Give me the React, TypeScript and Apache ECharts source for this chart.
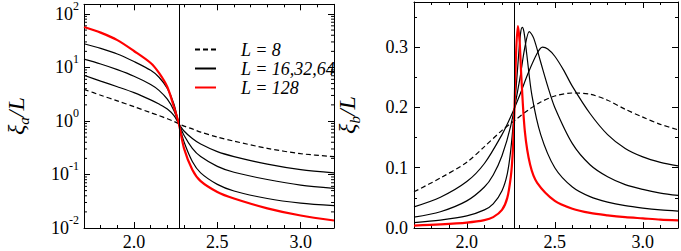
import React, { useEffect, useRef } from 'react';
import * as echarts from 'echarts';

const FONT = 'Liberation Serif, serif';
const TC = 2.269;
const X_MIN = 1.7;
const X_MAX = 3.2;

const LEGEND_NAMES = ['L = 8', 'L = 16,32,64', 'L = 128'];

// Left panel: xi_a / L (log scale)
const tA = [1.7, 1.8, 1.9, 2.0, 2.1, 2.15, 2.2, 2.24, 2.269, 2.3, 2.35, 2.4, 2.5, 2.6, 2.8, 3.0, 3.2];
const xiA_L8 = [3.9, 3.03, 2.38, 1.85, 1.43, 1.26, 1.1, 0.98, 0.887, 0.8, 0.71, 0.62, 0.5, 0.42, 0.308, 0.245, 0.216];
const xiA_L16 = [7.16, 5.55, 4.37, 3.39, 2.48, 2.07, 1.67, 1.26, 0.887, 0.65, 0.47, 0.37, 0.267, 0.216, 0.156, 0.123, 0.107];
const xiA_L32 = [14.3, 11.6, 9.1, 6.86, 4.82, 3.74, 2.55, 1.56, 0.887, 0.54, 0.308, 0.216, 0.142, 0.11, 0.0807, 0.0634, 0.0551];
const xiA_L64 = [27.7, 22.7, 17.9, 12.9, 8.84, 6.57, 4.07, 2.07, 0.887, 0.408, 0.175, 0.107, 0.0653, 0.0492, 0.0356, 0.0292, 0.0261];
const xiA_L128 = [56.9, 44.8, 32.4, 20.3, 12.1, 7.89, 4.31, 1.8, 0.887, 0.308, 0.123, 0.0752, 0.0472, 0.0356, 0.0233, 0.0171, 0.0138];

// Right panel: xi_b / L (linear scale)
const tB8 = [1.7, 1.85, 2.0, 2.1, 2.2, 2.27, 2.35, 2.42, 2.5, 2.6, 2.7, 2.8, 2.9, 3.0, 3.1, 3.2];
const xiB_L8 = [0.06, 0.083, 0.109, 0.135, 0.162, 0.178, 0.196, 0.209, 0.219, 0.224, 0.222, 0.212, 0.197, 0.184, 0.172, 0.163];
const tB16 = [1.7, 1.85, 2.0, 2.1, 2.2, 2.25, 2.3, 2.35, 2.4, 2.43, 2.46, 2.5, 2.55, 2.6, 2.7, 2.8, 2.9, 3.0, 3.1, 3.2];
const xiB_L16 = [0.035, 0.051, 0.077, 0.107, 0.155, 0.185, 0.22, 0.258, 0.29, 0.3, 0.297, 0.285, 0.262, 0.235, 0.19, 0.155, 0.132, 0.118, 0.109, 0.103];
const tB32 = [1.7, 1.85, 2.0, 2.1, 2.15, 2.2, 2.25, 2.3, 2.33, 2.355, 2.38, 2.42, 2.46, 2.5, 2.6, 2.7, 2.8, 2.9, 3.0, 3.1, 3.2];
const xiB_L32 = [0.018, 0.027, 0.045, 0.068, 0.088, 0.12, 0.17, 0.245, 0.3, 0.326, 0.315, 0.275, 0.235, 0.2, 0.14, 0.105, 0.085, 0.072, 0.064, 0.058, 0.054];
const tB64 = [1.7, 1.85, 2.0, 2.1, 2.15, 2.2, 2.23, 2.25, 2.27, 2.29, 2.305, 2.315, 2.325, 2.34, 2.37, 2.42, 2.5, 2.6, 2.7, 2.8, 2.9, 3.0, 3.1, 3.2];
const xiB_L64 = [0.009, 0.013, 0.02, 0.03, 0.04, 0.062, 0.09, 0.13, 0.195, 0.27, 0.322, 0.333, 0.325, 0.29, 0.22, 0.155, 0.1, 0.068, 0.052, 0.043, 0.037, 0.033, 0.03, 0.028];
const tB128 = [1.7, 1.85, 2.0, 2.1, 2.15, 2.2, 2.23, 2.25, 2.26, 2.27, 2.28, 2.29, 2.3, 2.31, 2.33, 2.36, 2.4, 2.5, 2.6, 2.7, 2.8, 2.9, 3.0, 3.1, 3.2];
const xiB_L128 = [0.004, 0.006, 0.009, 0.013, 0.018, 0.03, 0.05, 0.085, 0.12, 0.19, 0.29, 0.335, 0.31, 0.25, 0.16, 0.105, 0.075, 0.045, 0.032, 0.025, 0.021, 0.018, 0.016, 0.014, 0.0127];

const LOG_MIN = -2;
const LOG_MAX = 2.18;
const B_MAX = 0.375;

const pairs = (xs: number[], ys: number[], f: (v: number) => number = (v) => v) =>
  xs.map((x, i) => [x, f(ys[i])]);

const minorLog: number[] = [];
for (let n = -2; n <= 2; n++) {
  for (let k = 2; k <= 9; k++) {
    const v = Math.log10(k * Math.pow(10, n));
    if (v < LOG_MAX) minorLog.push(v);
  }
}

function buildOption() {
  const axisLine = { show: true, onZero: false, lineStyle: { color: '#000', width: 1 } };
  const axisTick = { show: true, inside: true, length: 6, lineStyle: { color: '#000', width: 1 } };
  const labelBase = { fontFamily: FONT, fontSize: 18, fontWeight: 'normal', color: '#000' };

  const xAxisFor = (gridIndex: number, position: 'bottom' | 'top') => ({
    type: 'value',
    gridIndex,
    position,
    min: X_MIN,
    max: X_MAX,
    splitNumber: 3,
    axisLine,
    axisTick,
    minorTick: { show: true, splitNumber: 5, length: 3, lineStyle: { color: '#000', width: 1 } },
    splitLine: { show: false },
    axisLabel: {
      show: position === 'bottom',
      ...labelBase,
      margin: 5,
      showMinLabel: false,
      showMaxLabel: false,
      formatter: (v: number) => (Math.abs(v * 2 - Math.round(v * 2)) < 1e-6 ? v.toFixed(1) : ''),
    },
  });

  const nameStyle = (sub: string) => ({
    name: '{t|ξ}{s|' + sub + '}{t|/L}',
    nameLocation: 'middle',
    nameTextStyle: {
      fontFamily: FONT,
      fontSize: 24,
      fontStyle: 'italic',
      color: '#000',
      lineHeight: 30,
      rich: {
        t: { fontFamily: FONT, fontSize: 24, fontStyle: 'italic', color: '#000', lineHeight: 30 },
        s: { fontFamily: FONT, fontSize: 15, fontStyle: 'italic', color: '#000', lineHeight: 15, verticalAlign: 'bottom' },
      },
    },
  });

  const yLogFor = (position: 'left' | 'right') => ({
    type: 'value',
    gridIndex: 0,
    position,
    min: LOG_MIN,
    max: LOG_MAX,
    interval: 1,
    axisLine,
    axisTick,
    splitLine: { show: false },
    ...(position === 'left' ? { ...nameStyle('a'), nameGap: 53 } : {}),
    axisLabel: {
      show: position === 'left',
      ...labelBase,
      margin: 5,
      lineHeight: 28,
      formatter: (v: number) => {
        const r = Math.round(v);
        if (Math.abs(v - r) > 1e-6) return '';
        return '{b|10}{s|' + r + '}';
      },
      rich: {
        b: { fontFamily: FONT, fontSize: 18, color: '#000', lineHeight: 28 },
        s: { fontFamily: FONT, fontSize: 12, color: '#000', lineHeight: 12, verticalAlign: 'top' },
      },
    },
  });

  const yLinFor = (position: 'left' | 'right') => ({
    type: 'value',
    gridIndex: 1,
    position,
    min: 0,
    max: B_MAX,
    interval: 0.1,
    axisLine,
    axisTick,
    minorTick: { show: true, splitNumber: 2, length: 3, lineStyle: { color: '#000', width: 1 } },
    splitLine: { show: false },
    ...(position === 'left' ? { ...nameStyle('b'), nameGap: 52 } : {}),
    axisLabel: {
      show: position === 'left',
      ...labelBase,
      margin: 6,
      formatter: (v: number) => (Math.abs(v * 10 - Math.round(v * 10)) < 1e-6 ? v.toFixed(1) : ''),
    },
  });

  const line = (
    name: string,
    data: number[][],
    xi: number,
    yi: number,
    color: string,
    width: number,
    dashed: boolean,
    withMark: boolean,
  ) => ({
    type: 'line',
    name,
    data,
    xAxisIndex: xi,
    yAxisIndex: yi,
    symbol: 'none',
    showSymbol: false,
    smooth: 0.3,
    silent: true,
    itemStyle: { color },
    lineStyle: { color, width, type: dashed ? [5, 3] : 'solid' },
    ...(withMark
      ? {
          markLine: {
            silent: true,
            symbol: ['none', 'none'],
            label: { show: false },
            lineStyle: { color: '#000', width: 1, type: 'solid' },
            data: [{ xAxis: TC }],
          },
        }
      : {}),
  });

  const lg = Math.log10;

  return {
    animation: false,
    backgroundColor: '#fff',
    grid: [
      { left: 70, top: 2, width: 264, height: 227 },
      { left: 414, top: 2, width: 264, height: 227 },
    ],
    legend: {
      data: LEGEND_NAMES,
      orient: 'vertical',
      left: 189,
      top: 35,
      itemWidth: 21,
      itemHeight: 10,
      itemGap: 0,
      selectedMode: false,
      itemStyle: { color: 'rgba(0,0,0,0)', borderColor: 'rgba(0,0,0,0)', borderWidth: 0, opacity: 0 },
      formatter: (name: string) => '{n|' + name + '}',
      textStyle: {
        fontFamily: FONT,
        fontStyle: 'italic',
        fontSize: 18,
        color: '#000',
        lineHeight: 19,
        rich: {
          n: { fontFamily: FONT, fontStyle: 'italic', fontSize: 18, color: '#000', lineHeight: 19, padding: [0, 0, 0, 20] },
        },
      },
    },
    xAxis: [xAxisFor(0, 'bottom'), xAxisFor(0, 'top'), xAxisFor(1, 'bottom'), xAxisFor(1, 'top')],
    yAxis: [yLogFor('left'), yLogFor('right'), yLinFor('left'), yLinFor('right')],
    series: [
      line(LEGEND_NAMES[0], pairs(tA, xiA_L8, lg), 0, 0, '#000', 1.2, true, true),
      line(LEGEND_NAMES[1], pairs(tA, xiA_L16, lg), 0, 0, '#000', 1.2, false, false),
      line(LEGEND_NAMES[1], pairs(tA, xiA_L32, lg), 0, 0, '#000', 1.2, false, false),
      line(LEGEND_NAMES[1], pairs(tA, xiA_L64, lg), 0, 0, '#000', 1.2, false, false),
      line(LEGEND_NAMES[2], pairs(tA, xiA_L128, lg), 0, 0, '#ff0000', 2.2, false, false),
      line(LEGEND_NAMES[0], pairs(tB8, xiB_L8), 2, 2, '#000', 1.2, true, true),
      line(LEGEND_NAMES[1], pairs(tB16, xiB_L16), 2, 2, '#000', 1.2, false, false),
      line(LEGEND_NAMES[1], pairs(tB32, xiB_L32), 2, 2, '#000', 1.2, false, false),
      line(LEGEND_NAMES[1], pairs(tB64, xiB_L64), 2, 2, '#000', 1.2, false, false),
      line(LEGEND_NAMES[2], pairs(tB128, xiB_L128), 2, 2, '#ff0000', 2.2, false, false),
      {
        type: 'custom',
        name: 'minor-log-ticks',
        xAxisIndex: 0,
        yAxisIndex: 0,
        silent: true,
        z: 5,
        encode: { x: 0, y: 1 },
        data: minorLog.map((v) => [X_MIN, v]),
        renderItem: (_params: any, api: any) => {
          const v = api.value(1);
          const p1 = api.coord([X_MIN, v]);
          const p2 = api.coord([X_MAX, v]);
          const st = { stroke: '#000', lineWidth: 1 };
          return {
            type: 'group',
            children: [
              { type: 'line', shape: { x1: p1[0], y1: p1[1], x2: p1[0] + 3, y2: p1[1] }, style: st },
              { type: 'line', shape: { x1: p2[0] - 3, y1: p2[1], x2: p2[0], y2: p2[1] }, style: st },
            ],
          };
        },
      },
    ],
  };
}

export default function App() {
  const ref = useRef<HTMLDivElement>(null);
  useEffect(() => {
    if (!ref.current) return;
    const chart = echarts.init(ref.current, undefined, { renderer: 'svg' });
    chart.setOption(buildOption() as any);
    return () => chart.dispose();
  }, []);
  return (
    <div
      ref={ref}
      style={{ position: 'absolute', left: 0, top: 0, width: 681, height: 251, background: '#fff' }}
    />
  );
}
